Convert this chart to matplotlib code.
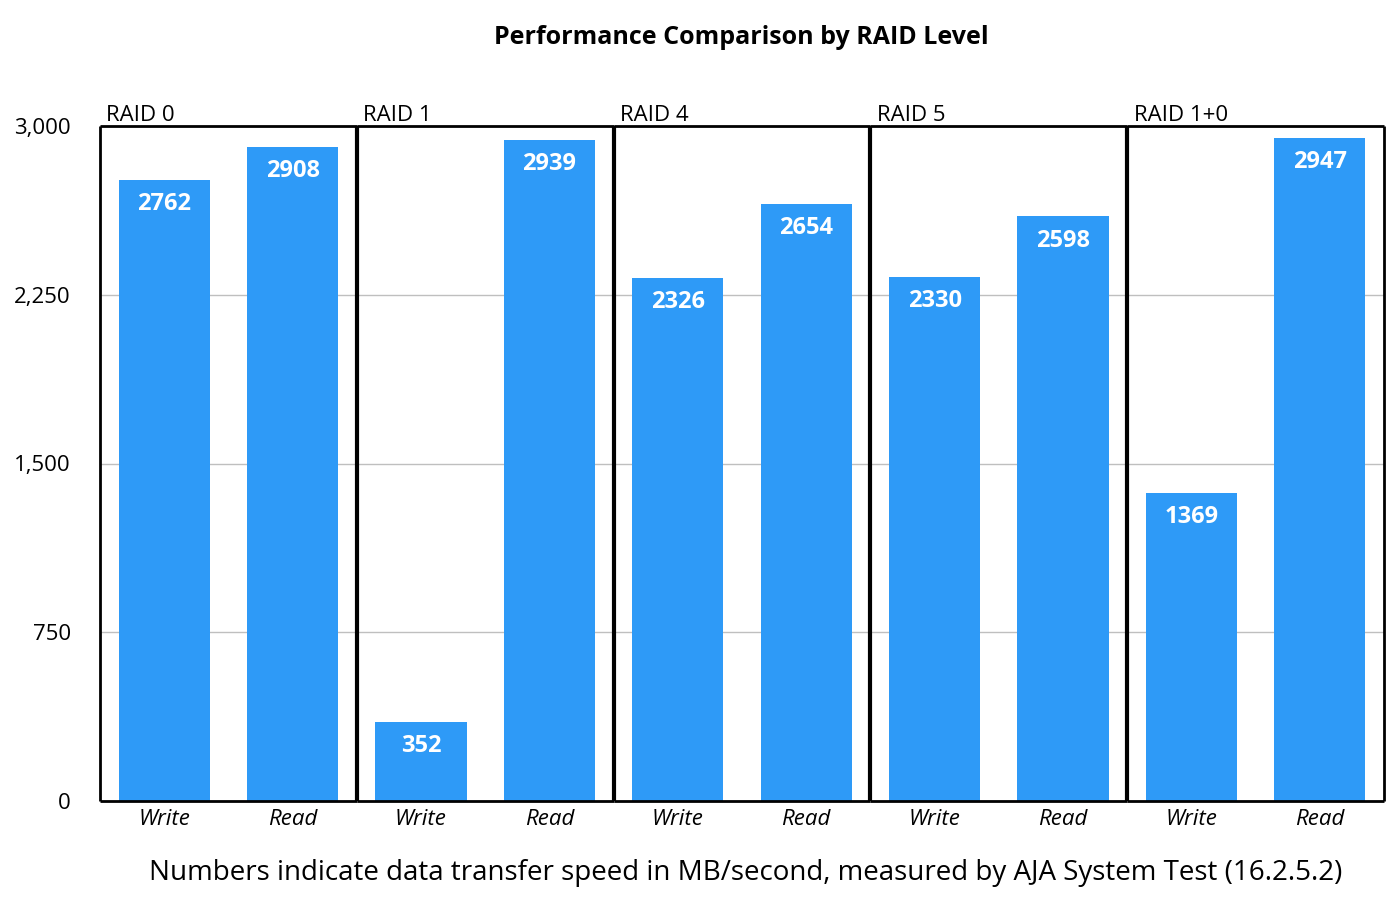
import matplotlib
matplotlib.use("Agg")
from matplotlib import pyplot as plt
from matplotlib.ticker import FuncFormatter

plt.rcParams['font.family'] = ['Open Sans', 'DejaVu Sans']

levels = ["RAID 0", "RAID 1", "RAID 4", "RAID 5", "RAID 1+0"]
ops = ["Write", "Read"]
write_speed = [2762, 352, 2326, 2330, 1369]
read_speed = [2908, 2939, 2654, 2598, 2947]

bar_color = "#2E9AF7"

fig, axes = plt.subplots(1, len(levels), figsize=(13.94, 9.18), dpi=100, sharey=True)
fig.subplots_adjust(left=100/1394, right=1384/1394, top=1-126/918, bottom=1-801/918, wspace=0)

n = len(levels)
for i, ax in enumerate(axes):
    vals = [write_speed[i], read_speed[i]]
    ax.bar([0, 1], vals, width=0.71, color=bar_color, zorder=2)
    for x, v in zip([0, 1], vals):
        ax.annotate(str(v), (x, v), xytext=(0, -9), textcoords="offset points",
                    ha="center", va="top", color="white", fontsize=17, fontweight="bold", zorder=3)
    ax.set_xlim(-0.5, 1.5)
    ax.set_ylim(0, 3000)
    ax.set_yticks([0, 750, 1500, 2250, 3000])
    ax.yaxis.grid(True, color="#bfbfbf", linewidth=1, zorder=0)
    ax.set_xticks([0, 1])
    ax.set_xticklabels(ops, fontstyle="italic", fontsize=16)
    ax.tick_params(axis="both", length=0, pad=6)
    ax.tick_params(axis="y", labelsize=16, pad=21)
    for s in ax.spines.values():
        s.set_linewidth(2)
        s.set_color("black")
        s.set_zorder(4)
        s.set_capstyle("butt")
    if i > 0:
        ax.spines["left"].set_linewidth(3)
    if i < n - 1:
        ax.spines["right"].set_visible(False)
    ax.set_title(levels[i], loc="left", fontsize=16, pad=0, x=0.025)

axes[0].yaxis.set_major_formatter(FuncFormatter(lambda v, p: f"{int(v):,}"))

fig.text(0.532, 1-38/918, "Performance Comparison by RAID Level", ha="center", va="center",
         fontsize=18, fontweight="bold")
fig.text(0.535, 1-873/918, "Numbers indicate data transfer speed in MB/second, measured by AJA System Test (16.2.5.2)",
         ha="center", va="center", fontsize=20)

fig.savefig("out.png", dpi=100)
